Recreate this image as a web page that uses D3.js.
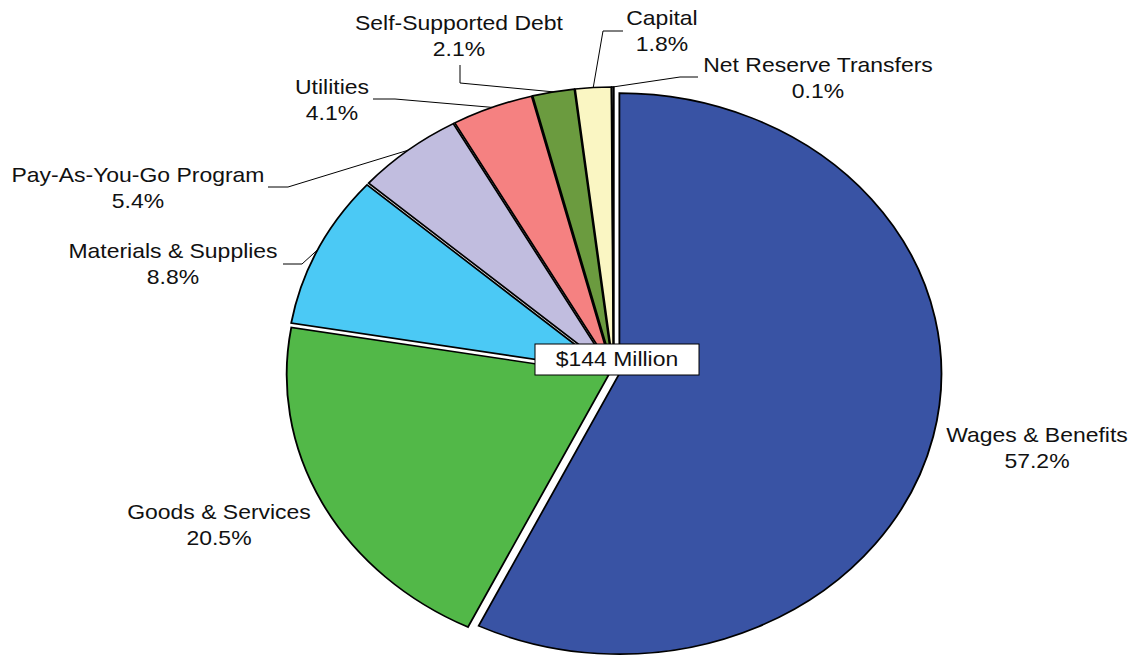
<!DOCTYPE html>
<html>
<head>
<meta charset="utf-8">
<script src="https://cdn.jsdelivr.net/npm/d3@7"></script>
<style>
  html, body { margin: 0; padding: 0; background: #ffffff; }
  svg { display: block; }
  text { font-family: "Liberation Sans", Arial, sans-serif; font-size: 20px; fill: #111111; }
</style>
</head>
<body>
<svg id="chart" width="1134" height="656"></svg>
<script>
// Budget breakdown by expense category (percent of total)
const categories = [
  "Wages & Benefits",
  "Goods & Services",
  "Materials & Supplies",
  "Pay-As-You-Go Program",
  "Utilities",
  "Self-Supported Debt",
  "Capital",
  "Net Reserve Transfers"
];
const shares = [57.2, 20.5, 8.8, 5.4, 4.1, 2.1, 1.8, 0.1];
const totalLabel = "$144 Million";

const sliceColors = ["#3953A4", "#52B848", "#4BC9F5", "#C1BDDF", "#F58181", "#6B9B3F", "#FAF6C3", "#FFFFFF"];

// Label placement: first-line baseline, plus optional leader elbow/end points
const labelLayout = [
  { x: 1037, y: 442, leader: null },
  { x: 219,  y: 519, leader: null },
  { x: 173,  y: 258, leader: [[302, 264], [283, 264]] },
  { x: 138,  y: 182, leader: [[288, 187], [268, 187]] },
  { x: 332,  y: 94,  leader: [[395, 99], [373, 99]] },
  { x: 459,  y: 30,  leader: [[460, 83], [460, 65]] },
  { x: 662,  y: 25,  leader: [[603, 31], [623, 31]] },
  { x: 818,  y: 72,  leader: [[680, 77], [698, 77]] }
];

const cx = 613.8, cy = 372.5;   // pie centre
const radius = 280.5;           // vertical radius
const stretchX = 1.148;         // horizontal stretch of the drawing
const explode = 5;              // slice offset from centre
const lineGap = 26;

const svg = d3.select("#chart");

const data = categories.map((c, i) => ({ name: c, value: shares[i], color: sliceColors[i], layout: labelLayout[i] }));

const pie = d3.pie().sort(null).value(d => d.value).startAngle(0).endAngle(2 * Math.PI);
const arc = d3.arc().innerRadius(0).outerRadius(radius);
const arcs = pie(data);
const midAngle = d => (d.startAngle + d.endAngle) / 2;

// Slices
const pieG = svg.append("g").attr("transform", `translate(${cx},${cy}) scale(${stretchX},1)`);
pieG.selectAll("path")
  .data(arcs)
  .join("path")
  .attr("transform", d => {
    const a = midAngle(d);
    return `translate(${explode * Math.sin(a)},${-explode * Math.cos(a)})`;
  })
  .attr("d", arc)
  .attr("fill", d => d.data.color)
  .attr("stroke", "#000000")
  .attr("stroke-width", 1.6)
  .attr("stroke-linejoin", "miter");

// Leader lines from the slice rim to the labels
const rimPoint = d => {
  const a = midAngle(d);
  return [cx + stretchX * (radius + explode) * Math.sin(a), cy - (radius + explode) * Math.cos(a)];
};
svg.append("g")
  .selectAll("polyline")
  .data(arcs.filter(d => d.data.layout.leader))
  .join("polyline")
  .attr("points", d => [rimPoint(d), ...d.data.layout.leader].map(p => p.join(",")).join(" "))
  .attr("fill", "none")
  .attr("stroke", "#000000")
  .attr("stroke-width", 1);

// Category and percentage labels
const fmt = d3.format(".1f");
const labels = svg.append("g")
  .selectAll("g")
  .data(arcs)
  .join("g")
  .attr("transform", d => `translate(${d.data.layout.x},${d.data.layout.y}) scale(${stretchX},1)`);
labels.append("text")
  .attr("text-anchor", "middle")
  .text(d => d.data.name);
labels.append("text")
  .attr("text-anchor", "middle")
  .attr("y", lineGap)
  .text(d => fmt(d.data.value) + "%");

// Total callout in the middle
const box = { x: 535, y: 344, w: 164, h: 31 };
svg.append("rect")
  .attr("x", box.x).attr("y", box.y)
  .attr("width", box.w).attr("height", box.h)
  .attr("fill", "#ffffff")
  .attr("stroke", "#000000")
  .attr("stroke-width", 1);
svg.append("text")
  .attr("transform", `translate(${box.x + box.w / 2},${box.y + 22}) scale(${stretchX},1)`)
  .attr("text-anchor", "middle")
  .text(totalLabel);
</script>
</body>
</html>
